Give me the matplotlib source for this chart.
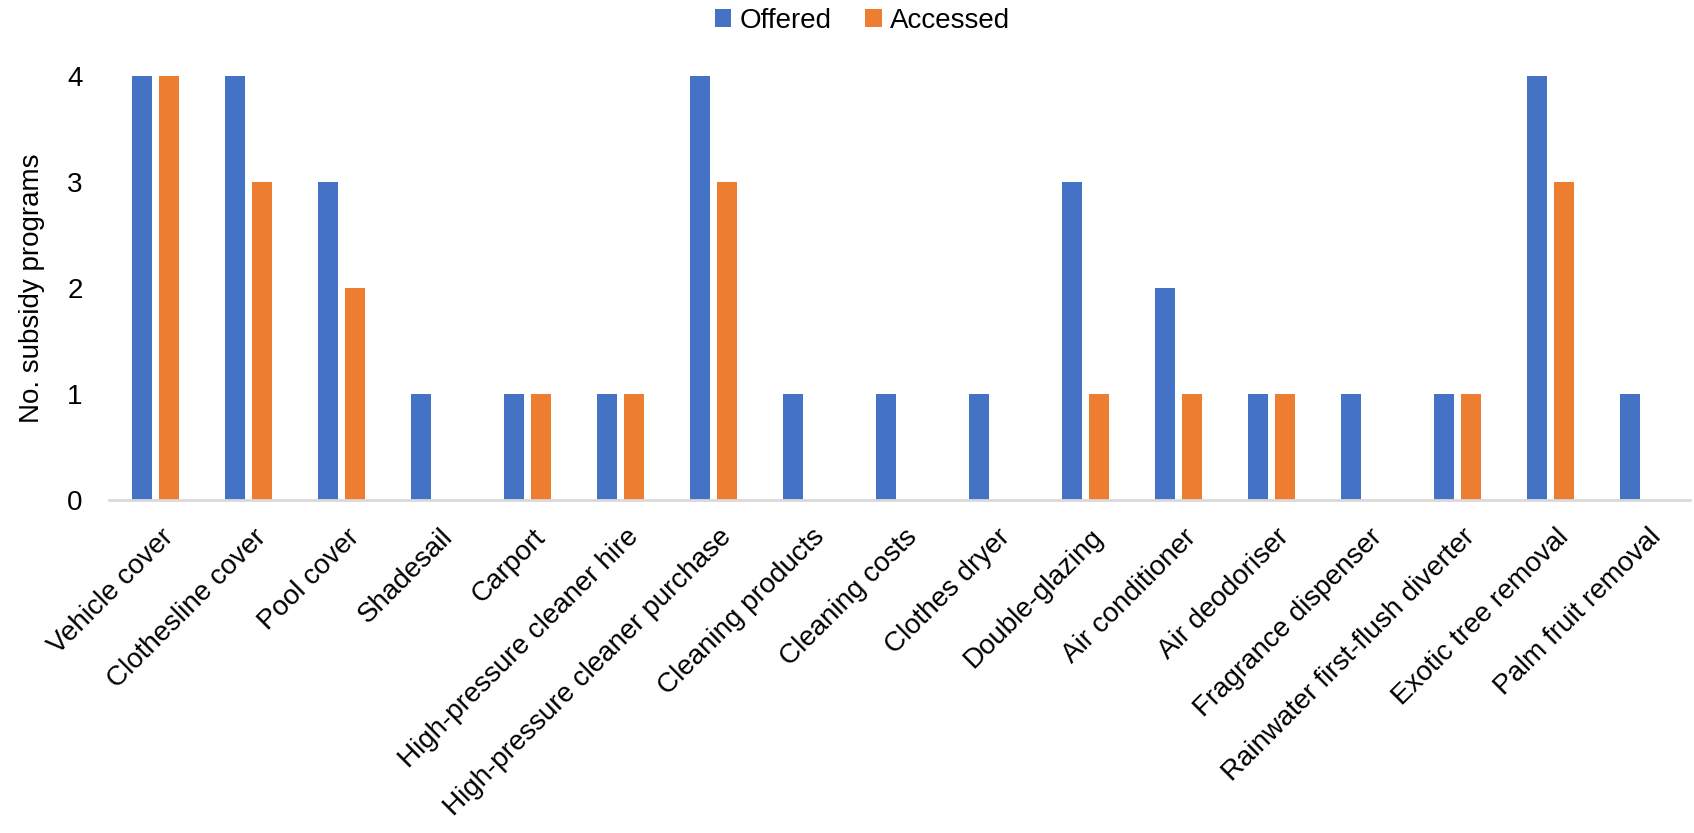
import numpy as np
import matplotlib.pyplot as plt
from matplotlib.transforms import ScaledTranslation

categories = ["Vehicle cover", "Clothesline cover", "Pool cover", "Shadesail",
              "Carport", "High-pressure cleaner hire",
              "High-pressure cleaner purchase", "Cleaning products",
              "Cleaning costs", "Clothes dryer", "Double-glazing",
              "Air conditioner", "Air deodoriser", "Fragrance dispenser",
              "Rainwater first-flush diverter", "Exotic tree removal",
              "Palm fruit removal"]
offered = [4, 4, 3, 1, 1, 1, 4, 1, 1, 1, 3, 2, 1, 1, 1, 4, 1]
accessed = [4, 3, 2, 0, 1, 1, 3, 0, 0, 0, 1, 1, 1, 0, 1, 3, 0]

plt.rcParams['font.family'] = ['Liberation Sans', 'DejaVu Sans']
fs = 20

fig = plt.figure(figsize=(16.94, 8.33), dpi=100)
ax = fig.add_axes([109 / 1694, 1 - 500 / 833, 1581 / 1694, 424 / 833])

x = np.arange(len(categories))
w = 0.225
ax.bar(x - 0.145, offered, w, color="#4472C4", label="Offered")
ax.bar(x + 0.145, accessed, w, color="#ED7D31", label="Accessed")

ax.set_xlim(-0.5, len(categories) - 0.5)
ax.set_ylim(0, 4)
ax.set_yticks([0, 1, 2, 3, 4])
ax.set_xticks(x)
ax.set_xticklabels(categories, rotation=45, ha="right", va="center",
                   rotation_mode="anchor")
ax.tick_params(axis="both", length=0, labelsize=fs)
ax.tick_params(axis="x", pad=24)
ax.tick_params(axis="y", pad=19)

# nudge the slanted labels a little to the right
shift = ScaledTranslation(14 / 100, 0, fig.dpi_scale_trans)
for lbl in ax.get_xticklabels():
    lbl.set_transform(lbl.get_transform() + shift)

for s in ["top", "right", "left"]:
    ax.spines[s].set_visible(False)
ax.spines["bottom"].set_color("#d9d9d9")
ax.spines["bottom"].set_linewidth(2)

ax.set_ylabel("No. subsidy programs", fontsize=fs, labelpad=16)

fig.legend(loc="center", bbox_to_anchor=(0.509, 1 - 21 / 833), ncol=2,
           frameon=False, fontsize=fs, handlelength=0.6, handleheight=0.6,
           handletextpad=0.3, columnspacing=1.2)

fig.savefig("out.png", dpi=100)
